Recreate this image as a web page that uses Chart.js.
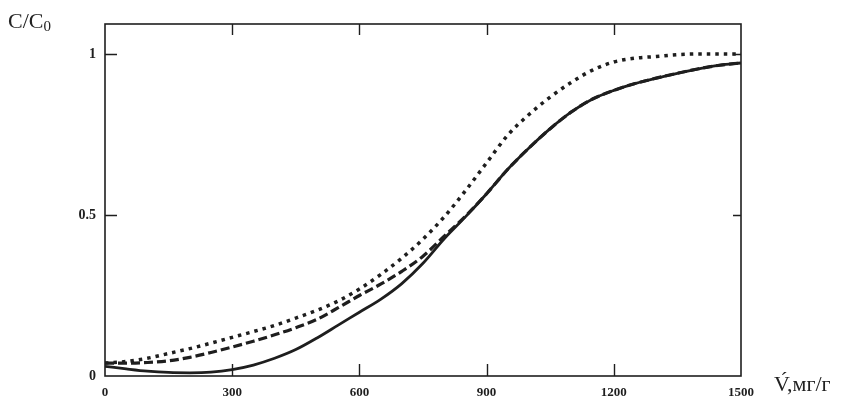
<!DOCTYPE html>
<html>
<head>
<meta charset="utf-8">
<script src="https://cdn.jsdelivr.net/npm/chart.js@4/dist/chart.umd.min.js"></script>
<style>
  html, body { margin: 0; padding: 0; background: #fff; }
  #wrap { position: relative; width: 842px; height: 406px; }
  canvas { position: absolute; left: 0; top: 0; }
  .lbl { position: absolute; font-family: 'Liberation Serif', serif; color: #222; white-space: nowrap; }
  #yTitle { left: 8px; top: 8px; font-size: 22px; }
  #yTitle sub { font-size: 15px; vertical-align: -3px; }
  #xTitle { left: 774px; top: 371px; font-size: 22px; }
</style>
</head>
<body>
<div id="wrap">
  <canvas id="chart" width="842" height="406"></canvas>
  <div class="lbl" id="yTitle">C/C<sub>0</sub></div>
  <div class="lbl" id="xTitle">V́,мг/г</div>
</div>
<script>
// V, мг/г
const volumes = [0, 50, 100, 150, 200, 250, 300, 350, 400, 450, 500, 550, 600, 650, 700, 750,
  800, 850, 900, 950, 1000, 1050, 1100, 1150, 1200, 1250, 1300, 1350, 1400, 1450, 1500];

// C/C0, dotted curve (top)
const dottedC = [0.040, 0.045, 0.055, 0.070, 0.085, 0.102, 0.120, 0.138, 0.157, 0.180, 0.204, 0.233,
  0.270, 0.315, 0.366, 0.425, 0.494, 0.575, 0.662, 0.748, 0.812, 0.866, 0.912, 0.950, 0.975,
  0.987, 0.992, 0.998, 1.0, 1.0, 1.0];

// C/C0, dashed curve (middle)
const dashedC = [0.040, 0.040, 0.042, 0.047, 0.058, 0.073, 0.090, 0.108, 0.128, 0.150, 0.176, 0.212,
  0.250, 0.285, 0.325, 0.372, 0.434, 0.496, 0.566, 0.642, 0.708, 0.768, 0.820, 0.860, 0.887,
  0.908, 0.925, 0.940, 0.954, 0.965, 0.972];

// C/C0, solid curve (bottom)
const solidC = [0.030, 0.022, 0.015, 0.011, 0.010, 0.012, 0.020, 0.034, 0.055, 0.082, 0.118, 0.158,
  0.198, 0.238, 0.287, 0.350, 0.426, 0.494, 0.566, 0.642, 0.708, 0.768, 0.820, 0.860, 0.887,
  0.908, 0.925, 0.940, 0.954, 0.965, 0.972];

const xTickValues = [0, 300, 600, 900, 1200, 1500];
const yTickValues = [0, 0.5, 1];

const INK = '#1e1e1e';

function pts(ys) {
  return volumes.map((v, i) => ({ x: v, y: ys[i] }));
}

// frame + inward tick marks
const framePlugin = {
  id: 'frame',
  afterDraw(chart) {
    const { ctx, chartArea: a, scales } = chart;
    ctx.save();
    ctx.strokeStyle = INK;
    ctx.lineWidth = 1.6;
    ctx.strokeRect(a.left, a.top, a.right - a.left, a.bottom - a.top);
    ctx.lineWidth = 1.4;
    ctx.beginPath();
    xTickValues.slice(1, -1).forEach(v => {
      const x = Math.round(scales.x.getPixelForValue(v)) + 0.5;
      ctx.moveTo(x, a.bottom); ctx.lineTo(x, a.bottom - 12);
      ctx.moveTo(x, a.top); ctx.lineTo(x, a.top + 11);
    });
    yTickValues.slice(1).forEach(v => {
      const y = Math.round(scales.y.getPixelForValue(v)) + 0.5;
      ctx.moveTo(a.left, y); ctx.lineTo(a.left + 12, y);
      ctx.moveTo(a.right, y); ctx.lineTo(a.right - 8, y);
    });
    ctx.stroke();
    ctx.restore();
  },
};

new Chart(document.getElementById('chart').getContext('2d'), {
  type: 'line',
  data: {
    datasets: [
      {
        data: pts(dottedC),
        borderColor: INK,
        borderWidth: 3.5,
        borderDash: [3.5, 5],
        borderCapStyle: 'butt',
        pointRadius: 0,
        cubicInterpolationMode: 'monotone',
        fill: false,
      },
      {
        data: pts(dashedC),
        borderColor: INK,
        borderWidth: 3.2,
        borderDash: [9, 4],
        borderCapStyle: 'butt',
        pointRadius: 0,
        cubicInterpolationMode: 'monotone',
        fill: false,
      },
      {
        data: pts(solidC),
        borderColor: INK,
        borderWidth: 2.8,
        pointRadius: 0,
        cubicInterpolationMode: 'monotone',
        fill: false,
      },
    ],
  },
  options: {
    responsive: false,
    animation: false,
    layout: { padding: { left: 0, right: 101, top: 24, bottom: 0 } },
    scales: {
      x: {
        type: 'linear',
        min: 0,
        max: 1500,
        grid: { display: false, drawTicks: false },
        border: { display: false },
        afterBuildTicks: s => { s.ticks = xTickValues.map(v => ({ value: v })); },
        afterFit: s => { s.height = 30; },
        ticks: {
          padding: 9,
          maxRotation: 0,
          color: INK,
          font: { family: 'Liberation Serif', size: 13, weight: 'bold' },
          callback: v => String(v),
        },
      },
      y: {
        min: 0,
        max: 1.093,
        grid: { display: false, drawTicks: false },
        border: { display: false },
        afterBuildTicks: s => { s.ticks = yTickValues.map(v => ({ value: v })); },
        afterFit: s => { s.width = 105; },
        ticks: {
          padding: 9,
          color: INK,
          font: { family: 'Liberation Serif', size: 14, weight: 'bold' },
          callback: v => String(v),
        },
      },
    },
    plugins: {
      legend: { display: false },
      tooltip: { enabled: false },
    },
  },
  plugins: [framePlugin],
});
</script>
</body>
</html>
